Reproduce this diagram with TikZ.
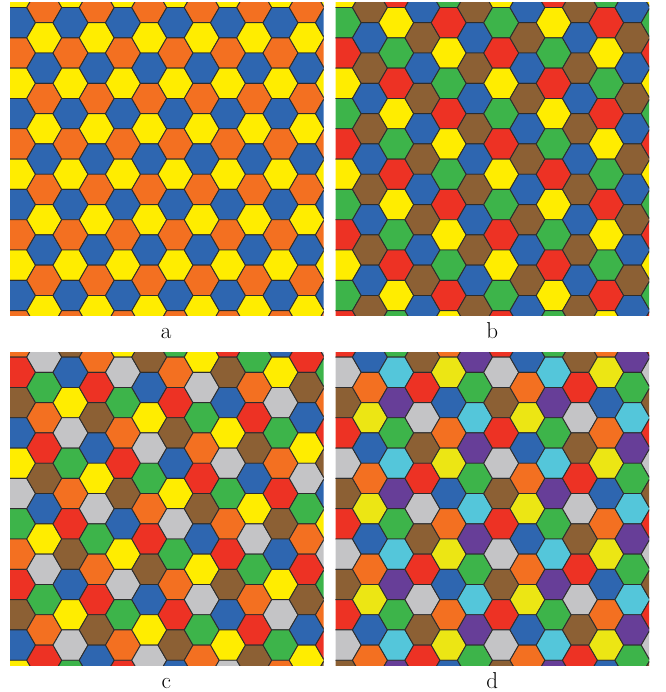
\documentclass[tikz,border=0pt]{standalone}
\definecolor{hblue}{RGB}{46,102,176}
\definecolor{hyellow}{RGB}{255,237,0}
\definecolor{hyellowd}{RGB}{236,230,20}
\definecolor{horange}{RGB}{243,112,33}
\definecolor{hgreen}{RGB}{61,180,74}
\definecolor{hred}{RGB}{237,50,36}
\definecolor{hbrown}{RGB}{140,96,52}
\definecolor{hgray}{RGB}{196,196,198}
\definecolor{hcyan}{RGB}{84,198,218}
\definecolor{hpurple}{RGB}{103,62,152}
\definecolor{hline}{RGB}{45,45,45}
% panel a
\colorlet{ca0}{hblue}\colorlet{ca1}{horange}\colorlet{ca2}{hyellow}
% panel b
\colorlet{cbe0}{hgreen}\colorlet{cbe1}{hred}\colorlet{cbe2}{hyellow}
\colorlet{cbo0}{hbrown}\colorlet{cbo1}{hblue}
% panel c
\colorlet{cc0}{hred}\colorlet{cc1}{hbrown}\colorlet{cc2}{hblue}\colorlet{cc3}{hyellow}
\colorlet{cc4}{hgray}\colorlet{cc5}{hgreen}\colorlet{cc6}{horange}
% panel d
\colorlet{cd00}{hgray}\colorlet{cd01}{hbrown}\colorlet{cd02}{hred}
\colorlet{cd10}{hblue}\colorlet{cd11}{horange}\colorlet{cd12}{hyellowd}
\colorlet{cd20}{hcyan}\colorlet{cd21}{hpurple}\colorlet{cd22}{hgreen}
\tikzset{
  hexcell/.style={draw=hline, line width=0.9pt, line join=round},
  panellabel/.style={anchor=base, inner sep=0pt, font=\fontsize{23}{27}\selectfont}
}
\newcommand{\hexcellat}[3]{%
  \filldraw[hexcell, fill=#3] (#1,#2) +(0:17.5) -- +(60:17.5) -- +(120:17.5) -- +(180:17.5) -- +(240:17.5) -- +(300:17.5) -- cycle;}
\newcommand{\hexpanel}[3]{% x0, y0, colour rule code (uses \q, \s)
  \begin{scope}
    \clip (#1,#2) rectangle ++(313.5,313.2);
    \foreach \q in {0,...,12} {
      \foreach \s in {-9,...,11} {
        \pgfmathsetmacro\hx{#1+8+26.25*\q}
        \pgfmathsetmacro\hy{#2+20+15.155*(2*\s+\q)}
        #3
        \hexcellat{\hx}{\hy}{\hcol}
      }
    }
  \end{scope}}
\begin{document}
\begin{tikzpicture}[x=1pt,y=-1pt]
  \useasboundingbox (0,0) rectangle (665,692);
  % a: 3 colours
  \hexpanel{10}{2.7}{%
    \pgfmathtruncatemacro\ci{mod(\s+2*\q+63,3)}%
    \edef\hcol{ca\ci}}
  % b: 5 colours
  \hexpanel{335.7}{2.7}{%
    \pgfmathtruncatemacro\qp{mod(\q,2)}%
    \ifnum\qp=0
      \pgfmathtruncatemacro\ci{mod(\s+63,3)}\edef\hcol{cbe\ci}%
    \else
      \pgfmathtruncatemacro\ci{mod(\s+65,2)}\edef\hcol{cbo\ci}%
    \fi}
  % c: 7 colours
  \hexpanel{10}{352.3}{%
    \pgfmathtruncatemacro\ci{mod(\s+5*\q+63,7)}%
    \edef\hcol{cc\ci}}
  % d: 9 colours
  \hexpanel{335.7}{352.3}{%
    \pgfmathtruncatemacro\g{mod(\q,3)}%
    \pgfmathtruncatemacro\ci{mod(\s+63+(\g>0),3)}%
    \edef\hcol{cd\g\ci}}
  \node[panellabel] (la) at (166.2,338.7) {a};
  \node[panellabel] (lb) at (492.3,338.7) {b};
  \node[panellabel] (lc) at (166.2,688.7) {c};
  \node[panellabel] (ld) at (492.3,688.7) {d};
\end{tikzpicture}
\end{document}
